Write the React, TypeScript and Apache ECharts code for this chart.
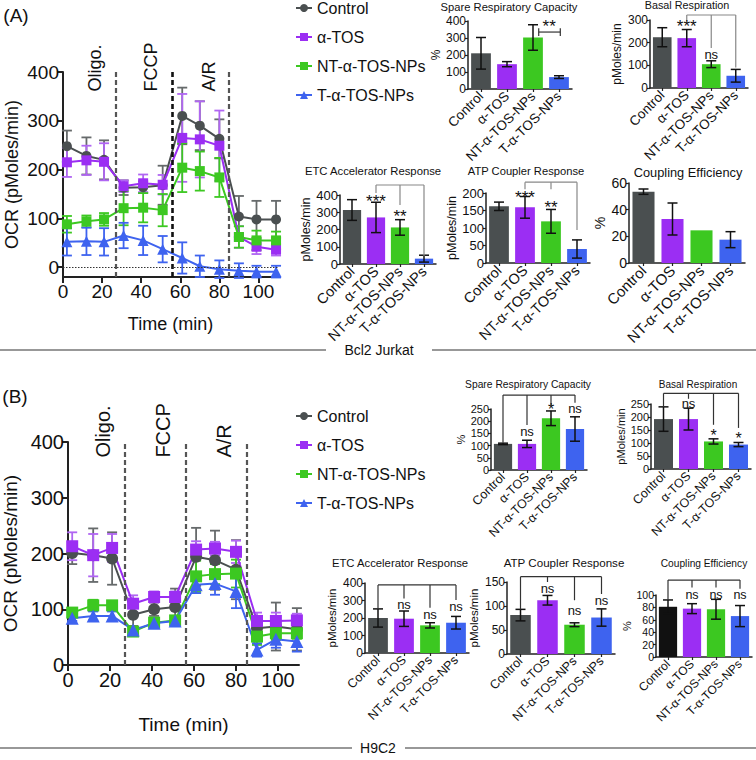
import React, { useEffect, useRef } from "react";
import * as echarts from "echarts";

// ---------------- data ----------------
const TIMES = [2, 12, 21, 31, 41, 51, 61, 70, 80, 90, 99, 109];
const GROUPS = ["Control", "α-TOS", "NT-α-TOS-NPs", "T-α-TOS-NPs"];
const TIME_TICKS = [0, 20, 40, 60, 80, 100];
const OCR_TICKS = [0, 100, 200, 300, 400];
const INJECTION_TIMES = [27, 56, 85];
const INJECTION_NAMES = ["Oligo.", "FCCP", "A/R"];
const INJECTION_LABEL_TIMES = [16.5, 45, 74.5];

// Panel A – Bcl2 Jurkat, OCR time course
const A_CONTROL = [248, 228, 220, 163, 164, 168, 310, 290, 263, 104, 98, 98];
const A_CONTROL_ERR = [32, 38, 40, 15, 12, 40, 58, 50, 40, 42, 38, 38];
const A_ATOS = [215, 219, 216, 166, 172, 169, 265, 262, 249, 62, 42, 36];
const A_ATOS_ERR = [30, 30, 38, 12, 18, 20, 90, 78, 72, 22, 15, 12];
const A_NT = [88, 94, 98, 121, 122, 117, 204, 197, 184, 62, 55, 55];
const A_NT_ERR = [17, 12, 13, 35, 30, 33, 50, 40, 40, 22, 20, 18];
const A_T = [52, 53, 52, 65, 55, 37, 19, 2, -4, -7, -9, -9];
const A_T_ERR = [28, 28, 28, 26, 30, 27, 32, 22, 18, 15, 12, 12];

// Panel A bar summaries
const A_SPARE = [210, 146, 303, 70];
const A_SPARE_ERR = [93, 15, 75, 8];
const A_BASAL = [224, 220, 105, 54];
const A_BASAL_ERR = [42, 38, 15, 28];
const A_ETC = [313, 270, 212, 31];
const A_ETC_ERR = [60, 88, 45, 20];
const A_ATP = [162, 159, 119, 40];
const A_ATP_ERR = [12, 31, 34, 26];
const A_COUP = [53.5, 33, 24.5, 17.5];
const A_COUP_ERR = [2, 12, 0, 6];

// Panel B – H9C2, OCR time course
const B_CONTROL = [201, 197, 191, 90, 100, 104, 194, 188, 171, 66, 69, 64];
const B_CONTROL_ERR = [20, 48, 47, 20, 12, 33, 52, 53, 53, 10, 43, 38];
const B_ATOS = [213, 197, 210, 110, 122, 122, 207, 209, 203, 79, 79, 80];
const B_ATOS_ERR = [25, 38, 25, 15, 10, 10, 15, 12, 20, 15, 15, 12];
const B_NT = [94, 107, 107, 60, 76, 80, 159, 163, 164, 51, 57, 57];
const B_NT_ERR = [8, 10, 6, 8, 8, 8, 28, 18, 25, 15, 12, 10];
const B_T = [84, 88, 88, 63, 75, 79, 144, 146, 132, 27, 46, 42];
const B_T_ERR = [5, 8, 8, 5, 8, 8, 15, 20, 30, 12, 15, 18];

// Panel B bar summaries
const B_SPARE = [107, 107, 212, 168];
const B_SPARE_ERR = [3, 15, 30, 50];
const B_BASAL = [192, 192, 106, 94];
const B_BASAL_ERR = [47, 42, 10, 8];
const B_ETC = [200, 196, 158, 173];
const B_ETC_ERR = [52, 44, 15, 36];
const B_ATP = [81, 112, 61, 76];
const B_ATP_ERR = [12, 10, 4, 18];
const B_COUP = [81, 78, 77, 66];
const B_COUP_ERR = [11, 8, 16, 17];

// significance brackets (category index, value) and marks
type Bracket = { from: number; to: number; y: number; drops: number[][] };
type Mark = { cat: number; y: number; text: string };

const A_SPARE_BR: Bracket[] = [{ from: 2.22, to: 3.05, y: 335, drops: [[2.22, 312], [2.22, 358], [3.05, 312], [3.05, 358]] }];
const A_SPARE_MK: Mark[] = [{ cat: 2.62, y: 368, text: "**" }];
const A_BASAL_BR: Bracket[] = [{ from: 1, to: 3, y: 322, drops: [[1, 295], [2, 176], [3, 90]] }];
const A_BASAL_MK: Mark[] = [{ cat: 1, y: 270, text: "***" }, { cat: 2, y: 148, text: "ns" }];
const A_ETC_BR: Bracket[] = [{ from: 1, to: 3, y: 458, drops: [[1, 412], [2, 342], [3, 46]] }];
const A_ETC_MK: Mark[] = [{ cat: 1, y: 362, text: "***" }, { cat: 2, y: 278, text: "**" }];
const A_ATP_BR: Bracket[] = [{ from: 1, to: 3, y: 231, drops: [[1, 211], [2, 211], [3, 94]] }];
const A_ATP_MK: Mark[] = [{ cat: 1, y: 188, text: "***" }, { cat: 2, y: 160, text: "**" }];

const B_SPARE_BR: Bracket[] = [{ from: 0, to: 3, y: 307, drops: [[0, 112], [1, 184], [2, 266], [3, 276]] }];
const B_SPARE_MK: Mark[] = [{ cat: 1, y: 157, text: "ns" }, { cat: 2, y: 246, text: "*" }, { cat: 3, y: 252, text: "ns" }];
const B_BASAL_BR: Bracket[] = [{ from: 0, to: 3, y: 291, drops: [[0, 239], [1, 270], [2, 170], [3, 158]] }];
const B_BASAL_MK: Mark[] = [{ cat: 1, y: 252, text: "ns" }, { cat: 2, y: 130, text: "*" }, { cat: 3, y: 119, text: "*" }];
const B_ETC_BR: Bracket[] = [{ from: 0, to: 3, y: 389, drops: [[0, 252], [1, 312], [2, 258], [3, 303]] }];
const B_ETC_MK: Mark[] = [{ cat: 1, y: 278, text: "ns" }, { cat: 2, y: 222, text: "ns" }, { cat: 3, y: 268, text: "ns" }];
const B_ATP_BR: Bracket[] = [{ from: 0, to: 3, y: 161, drops: [[0, 93], [1, 150], [2, 112], [3, 125]] }];
const B_ATP_MK: Mark[] = [{ cat: 1, y: 136, text: "ns" }, { cat: 2, y: 90, text: "ns" }, { cat: 3, y: 112, text: "ns" }];
const B_COUP_BR: Bracket[] = [{ from: 0, to: 3, y: 124, drops: [[0, 92], [1, 112], [2, 112], [3, 110]] }];
const B_COUP_MK: Mark[] = [{ cat: 1, y: 100, text: "ns" }, { cat: 2, y: 100, text: "ns" }, { cat: 3, y: 100, text: "ns" }];

// ---------------- style ----------------
const FONT = '"Liberation Sans", Arial, Helvetica, sans-serif';
const TEXT = "#111";
const AXIS = "#222";
const COLORS = ["#4a4f50", "#9b2ef3", "#3cc821", "#3e63ef"];
const ERR_COLORS = ["#666a6b", "#b066f2", "#3cc821", "#3e63ef"];
const SYMBOLS = ["circle", "rect", "rect", "triangle"];

function textEl(x: number, y: number, text: string, size: number, extra: any = {}) {
  return {
    type: "text", x, y, silent: true, z: 50,
    style: {
      text, fill: TEXT, fontSize: size, fontFamily: FONT,
      align: "center", textAlign: "center", verticalAlign: "middle", textVerticalAlign: "middle",
      ...extra,
    },
  };
}

const errorRender = (color: string, cap: number, width: number) => (params: any, api: any) => {
  const x = api.value(0);
  const v = api.value(1);
  const e = api.value(2);
  if (!e) return null;
  const t = api.coord([x, v + e]);
  const b = api.coord([x, v - e]);
  const st = { stroke: color, lineWidth: width, fill: "none" };
  return {
    type: "group",
    children: [
      { type: "line", shape: { x1: t[0], y1: t[1], x2: b[0], y2: b[1] }, style: st },
      { type: "line", shape: { x1: t[0] - cap, y1: t[1], x2: t[0] + cap, y2: t[1] }, style: st },
      { type: "line", shape: { x1: b[0] - cap, y1: b[1], x2: b[0] + cap, y2: b[1] }, style: st },
    ],
  };
};

function catX(api: any, c: number) {
  const r = Math.round(c);
  const band = api.size([1, 0])[0];
  return api.coord([r, 0])[0] + (c - r) * band;
}

const bracketRender = (list: Bracket[], color: string) => (params: any, api: any) => {
  const b = list[params.dataIndex];
  const py = (v: number) => api.coord([0, v])[1];
  const st = { stroke: color, lineWidth: 1.2, fill: "none" };
  const children: any[] = [
    { type: "line", shape: { x1: catX(api, b.from), y1: py(b.y), x2: catX(api, b.to), y2: py(b.y) }, style: st },
  ];
  b.drops.forEach((d) => {
    const x = catX(api, d[0]);
    children.push({ type: "line", shape: { x1: x, y1: py(b.y), x2: x, y2: py(d[1]) }, style: st });
  });
  return { type: "group", children };
};

const markRender = (list: Mark[], nsSize: number, starSize: number) => (params: any, api: any) => {
  const m = list[params.dataIndex];
  const y = api.coord([0, m.y])[1];
  const star = m.text.indexOf("*") >= 0;
  return {
    type: "text", x: catX(api, m.cat), y,
    style: {
      text: m.text, fill: TEXT, fontSize: star ? starSize : nsSize, fontFamily: FONT,
      align: "center", textAlign: "center", verticalAlign: "middle", textVerticalAlign: "middle",
    },
  };
};

function buildOption() {
  const grid: any[] = [];
  const xAxis: any[] = [];
  const yAxis: any[] = [];
  const series: any[] = [];
  const graphic: any[] = [];

  const addLine = (
    layout: any,
    cfg: { yMin: number; values: number[][]; errs: number[][]; tick: number; nameSize: number; xGap: number; yGap: number; symbolSize: number; labelY: number; labelSize: number; zeroLine: boolean; midDark: boolean }
  ) => {
    const gi = grid.length;
    grid.push({ ...layout, containLabel: false, outerBoundsMode: "none" });
    xAxis.push({
      type: "value", gridIndex: gi, min: 0, max: 110,
      name: "Time (min)", nameLocation: "middle", nameGap: cfg.xGap,
      nameTextStyle: { fontSize: cfg.nameSize, color: TEXT, fontFamily: FONT },
      axisLine: { show: true, onZero: false, lineStyle: { color: AXIS, width: 2 } },
      axisTick: { show: true, length: 6, lineStyle: { color: AXIS, width: 2 }, customValues: TIME_TICKS },
      axisLabel: { customValues: TIME_TICKS, fontSize: cfg.tick, color: TEXT, margin: 5 },
      splitLine: { show: false },
    });
    yAxis.push({
      type: "value", gridIndex: gi, min: cfg.yMin, max: 400,
      name: "OCR (pMoles/min)", nameLocation: "middle", nameRotate: 90, nameGap: cfg.yGap,
      nameTextStyle: { fontSize: cfg.nameSize, color: TEXT, fontFamily: FONT },
      axisLine: { show: true, onZero: false, lineStyle: { color: AXIS, width: 2 } },
      axisTick: { show: true, length: 6, lineStyle: { color: AXIS, width: 2 }, customValues: OCR_TICKS },
      axisLabel: { customValues: OCR_TICKS, fontSize: cfg.tick, color: TEXT, margin: 4 },
      splitLine: { show: false },
    });
    cfg.values.forEach((vals, g) => {
      series.push({
        type: "custom", xAxisIndex: gi, yAxisIndex: gi, silent: true, z: 2, clip: false,
        encode: { x: 0, y: 1 },
        data: TIMES.map((t, i) => [t, vals[i], cfg.errs[g][i]]),
        renderItem: errorRender(ERR_COLORS[g], 5, 1.8),
      });
    });
    cfg.values.forEach((vals, g) => {
      const s: any = {
        type: "line", name: GROUPS[g], xAxisIndex: gi, yAxisIndex: gi, z: 3,
        data: TIMES.map((t, i) => [t, vals[i]]),
        symbol: SYMBOLS[g], symbolSize: g === 3 ? cfg.symbolSize + 1 : cfg.symbolSize,
        itemStyle: { color: COLORS[g] },
        lineStyle: { color: COLORS[g], width: 2 },
        emphasis: { disabled: true },
      };
      if (g === 0) {
        const lines: any[] = INJECTION_TIMES.map((t, i) => ({
          xAxis: t,
          lineStyle: { color: cfg.midDark && i === 1 ? "#111" : "#555", width: cfg.midDark && i === 1 ? 2.6 : 2.2, type: [5, 3] },
        }));
        if (cfg.zeroLine) lines.push({ yAxis: 0, lineStyle: { color: "#333", width: 1, type: [1.5, 1.5] } });
        s.markLine = { silent: true, symbol: ["none", "none"], label: { show: false }, data: lines, animation: false };
      }
      series.push(s);
    });
    series.push({
      type: "custom", xAxisIndex: gi, yAxisIndex: gi, silent: true, clip: false, z: 4,
      encode: { x: 0, y: 1 },
      data: INJECTION_LABEL_TIMES.map((t) => [t, cfg.labelY]),
      renderItem: (params: any, api: any) => {
        const p = api.coord([api.value(0), api.value(1)]);
        return {
          type: "text", x: p[0], y: p[1], rotation: Math.PI / 2,
          style: {
            text: INJECTION_NAMES[params.dataIndex], fill: TEXT, fontSize: cfg.labelSize, fontFamily: FONT,
            align: "left", textAlign: "left", verticalAlign: "middle", textVerticalAlign: "middle",
          },
        };
      },
    });
  };

  const addBar = (
    layout: any,
    cfg: {
      title: string; titleX: number; titleY: number; titleSize: number;
      max: number; interval: number; values: number[]; errs: number[];
      yName: string; yGap: number; ySize: number; tick: number; cat: number;
      brackets?: Bracket[]; marks?: Mark[]; bracketColor?: string; nsSize?: number; starSize?: number; colors?: string[];
    }
  ) => {
    const gi = grid.length;
    grid.push({ ...layout, containLabel: false, outerBoundsMode: "none" });
    xAxis.push({
      type: "category", gridIndex: gi, data: GROUPS,
      axisLine: { show: true, lineStyle: { color: AXIS, width: 1.5 } },
      axisTick: { show: true, alignWithLabel: true, length: 3, lineStyle: { color: AXIS, width: 1.2 } },
      axisLabel: { rotate: 45, interval: 0, fontSize: cfg.cat, color: TEXT, margin: 5 },
      splitLine: { show: false },
    });
    yAxis.push({
      type: "value", gridIndex: gi, min: 0, max: cfg.max, interval: cfg.interval,
      name: cfg.yName, nameLocation: "middle", nameRotate: 90, nameGap: cfg.yGap,
      nameTextStyle: { fontSize: cfg.ySize, color: TEXT, fontFamily: FONT },
      axisLine: { show: true, lineStyle: { color: AXIS, width: 1.5 } },
      axisTick: { show: true, length: 3, lineStyle: { color: AXIS, width: 1.2 } },
      axisLabel: { fontSize: cfg.tick, color: TEXT, margin: 2 },
      splitLine: { show: false },
    });
    const colors = cfg.colors || COLORS;
    series.push({
      type: "bar", xAxisIndex: gi, yAxisIndex: gi, barWidth: "76%", z: 2, silent: true,
      data: cfg.values.map((v, i) => ({ value: v, itemStyle: { color: colors[i] } })),
    });
    series.push({
      type: "custom", xAxisIndex: gi, yAxisIndex: gi, silent: true, z: 3, clip: false,
      encode: { x: 0, y: 1 },
      data: cfg.values.map((v, i) => [i, v, cfg.errs[i]]),
      renderItem: errorRender("#111", 5, 1.5),
    });
    if (cfg.brackets) {
      series.push({
        type: "custom", xAxisIndex: gi, yAxisIndex: gi, silent: true, z: 3, clip: false,
        encode: { x: 0, y: 1 },
        data: cfg.brackets.map((b) => [Math.round(b.from), b.y]),
        renderItem: bracketRender(cfg.brackets, cfg.bracketColor || "#333"),
      });
    }
    if (cfg.marks) {
      series.push({
        type: "custom", xAxisIndex: gi, yAxisIndex: gi, silent: true, z: 4, clip: false,
        encode: { x: 0, y: 1 },
        data: cfg.marks.map((m) => [Math.round(m.cat), m.y]),
        renderItem: markRender(cfg.marks, cfg.nsSize || 13, cfg.starSize || 16),
      });
    }
    graphic.push(textEl(cfg.titleX, cfg.titleY, cfg.title, cfg.titleSize));
  };

  // ---- Panel A ----
  addLine({ left: 63, top: 72, width: 215, height: 205 }, {
    yMin: -20, values: [A_CONTROL, A_ATOS, A_NT, A_T], errs: [A_CONTROL_ERR, A_ATOS_ERR, A_NT_ERR, A_T_ERR],
    tick: 19, nameSize: 18, xGap: 38, yGap: 42, symbolSize: 10, labelY: 360, labelSize: 18, zeroLine: true, midDark: true,
  });
  addBar({ left: 468, top: 21, width: 104, height: 68 }, {
    title: "Spare Respiratory Capacity", titleX: 509, titleY: 7, titleSize: 11.2,
    max: 400, interval: 100, values: A_SPARE, errs: A_SPARE_ERR, yName: "%", yGap: 22, ySize: 12, tick: 12, cat: 13.5,
    brackets: A_SPARE_BR, marks: A_SPARE_MK, bracketColor: "#333", nsSize: 13, starSize: 17,
  });
  addBar({ left: 650, top: 20, width: 98, height: 68 }, {
    title: "Basal Respiration", titleX: 687, titleY: 5, titleSize: 10.8,
    max: 300, interval: 100, values: A_BASAL, errs: A_BASAL_ERR, yName: "pMoles/min", yGap: 27, ySize: 12, tick: 12, cat: 13.5,
    brackets: A_BASAL_BR, marks: A_BASAL_MK, bracketColor: "#888", nsSize: 13, starSize: 17,
  });
  addBar({ left: 340, top: 195, width: 96, height: 69 }, {
    title: "ETC Accelerator Response", titleX: 373, titleY: 171, titleSize: 11.3,
    max: 400, interval: 100, values: A_ETC, errs: A_ETC_ERR, yName: "pMoles/min", yGap: 28, ySize: 12.5, tick: 13, cat: 14.5,
    brackets: A_ETC_BR, marks: A_ETC_MK, bracketColor: "#888", nsSize: 13, starSize: 17,
  });
  addBar({ left: 486, top: 193, width: 104, height: 70 }, {
    title: "ATP Coupler Response", titleX: 526, titleY: 171, titleSize: 11.2,
    max: 200, interval: 50, values: A_ATP, errs: A_ATP_ERR, yName: "pMoles/min", yGap: 27, ySize: 12.5, tick: 13, cat: 14.5,
    brackets: A_ATP_BR, marks: A_ATP_MK, bracketColor: "#888", nsSize: 13, starSize: 17,
  });
  addBar({ left: 629, top: 183, width: 116, height: 80 }, {
    title: "Coupling Efficiency", titleX: 688, titleY: 172, titleSize: 12.8,
    max: 60, interval: 20, values: A_COUP, errs: A_COUP_ERR, yName: "%", yGap: 22, ySize: 14, tick: 14, cat: 15,
  });

  // ---- Panel B ----
  addLine({ left: 68, top: 442, width: 231, height: 223 }, {
    yMin: 0, values: [B_CONTROL, B_ATOS, B_NT, B_T], errs: [B_CONTROL_ERR, B_ATOS_ERR, B_NT_ERR, B_T_ERR],
    tick: 20, nameSize: 19, xGap: 50, yGap: 48, symbolSize: 12, labelY: 372, labelSize: 20, zeroLine: false, midDark: false,
  });
  addBar({ left: 491, top: 409, width: 96, height: 61 }, {
    title: "Spare Respiratory Capacity", titleX: 528, titleY: 384, titleSize: 10.3,
    max: 250, interval: 50, values: B_SPARE, errs: B_SPARE_ERR, yName: "%", yGap: 24, ySize: 11, tick: 11, cat: 12.5,
    brackets: B_SPARE_BR, marks: B_SPARE_MK, bracketColor: "#333", nsSize: 13, starSize: 16,
  });
  addBar({ left: 651, top: 404, width: 100, height: 65 }, {
    title: "Basal Respiration", titleX: 698, titleY: 384, titleSize: 10,
    max: 250, interval: 50, values: B_BASAL, errs: B_BASAL_ERR, yName: "pMoles/min", yGap: 24, ySize: 11, tick: 11, cat: 12.5,
    brackets: B_BASAL_BR, marks: B_BASAL_MK, bracketColor: "#333", nsSize: 13, starSize: 16,
  });
  addBar({ left: 365, top: 583, width: 104, height: 70 }, {
    title: "ETC Accelerator Response", titleX: 400, titleY: 563, titleSize: 11.3,
    max: 400, interval: 100, values: B_ETC, errs: B_ETC_ERR, yName: "pMoles/min", yGap: 27, ySize: 11.5, tick: 12, cat: 12.5,
    brackets: B_ETC_BR, marks: B_ETC_MK, bracketColor: "#333", nsSize: 13, starSize: 16,
  });
  addBar({ left: 507, top: 582, width: 108, height: 72 }, {
    title: "ATP Coupler Response", titleX: 564, titleY: 562, titleSize: 11.6,
    max: 150, interval: 50, values: B_ATP, errs: B_ATP_ERR, yName: "pMoles/min", yGap: 27, ySize: 11.5, tick: 12, cat: 12.5,
    brackets: B_ATP_BR, marks: B_ATP_MK, bracketColor: "#333", nsSize: 13, starSize: 16,
  });
  addBar({ left: 656, top: 595, width: 96, height: 62 }, {
    title: "Coupling Efficiency", titleX: 704, titleY: 563, titleSize: 10.2,
    max: 100, interval: 20, values: B_COUP, errs: B_COUP_ERR, yName: "%", yGap: 24, ySize: 11, tick: 10.5, cat: 12,
    brackets: B_COUP_BR, marks: B_COUP_MK, bracketColor: "#333", nsSize: 12.5, starSize: 16,
    colors: ["#111111", COLORS[1], COLORS[2], COLORS[3]],
  });

  // panel letters and cell-line captions
  graphic.push(textEl(16, 15, "(A)", 19));
  graphic.push(textEl(15, 396, "(B)", 19));
  graphic.push({ type: "line", silent: true, shape: { x1: 0, y1: 350, x2: 326, y2: 350 }, style: { stroke: "#333", lineWidth: 1.2 } });
  graphic.push({ type: "line", silent: true, shape: { x1: 432, y1: 350, x2: 756, y2: 350 }, style: { stroke: "#333", lineWidth: 1.2 } });
  graphic.push(textEl(379, 350, "Bcl2 Jurkat", 14));
  graphic.push({ type: "line", silent: true, shape: { x1: 0, y1: 748, x2: 352, y2: 748 }, style: { stroke: "#333", lineWidth: 1.2 } });
  graphic.push({ type: "line", silent: true, shape: { x1: 405, y1: 748, x2: 756, y2: 748 }, style: { stroke: "#333", lineWidth: 1.2 } });
  graphic.push(textEl(378, 748, "H9C2", 14));

  const legendBase = {
    data: GROUPS, orient: "vertical", left: 290, itemGap: 13, itemWidth: 16, itemHeight: 10,
    selectedMode: false, textStyle: { fontSize: 16, color: TEXT, fontFamily: FONT },
  };

  return {
    animation: false,
    backgroundColor: "#ffffff",
    textStyle: { fontFamily: FONT },
    grid, xAxis, yAxis, series, graphic,
    legend: [
      { ...legendBase, top: -5 },
      { ...legendBase, top: 403 },
    ],
  };
}

export default function App() {
  const ref = useRef<HTMLDivElement>(null);
  useEffect(() => {
    if (!ref.current) return;
    const chart = echarts.init(ref.current, null, { renderer: "svg" });
    chart.setOption(buildOption() as any);
    return () => chart.dispose();
  }, []);
  return (
    <div
      ref={ref}
      style={{ position: "absolute", left: 0, top: 0, width: 756, height: 760, background: "#fff" }}
    />
  );
}
